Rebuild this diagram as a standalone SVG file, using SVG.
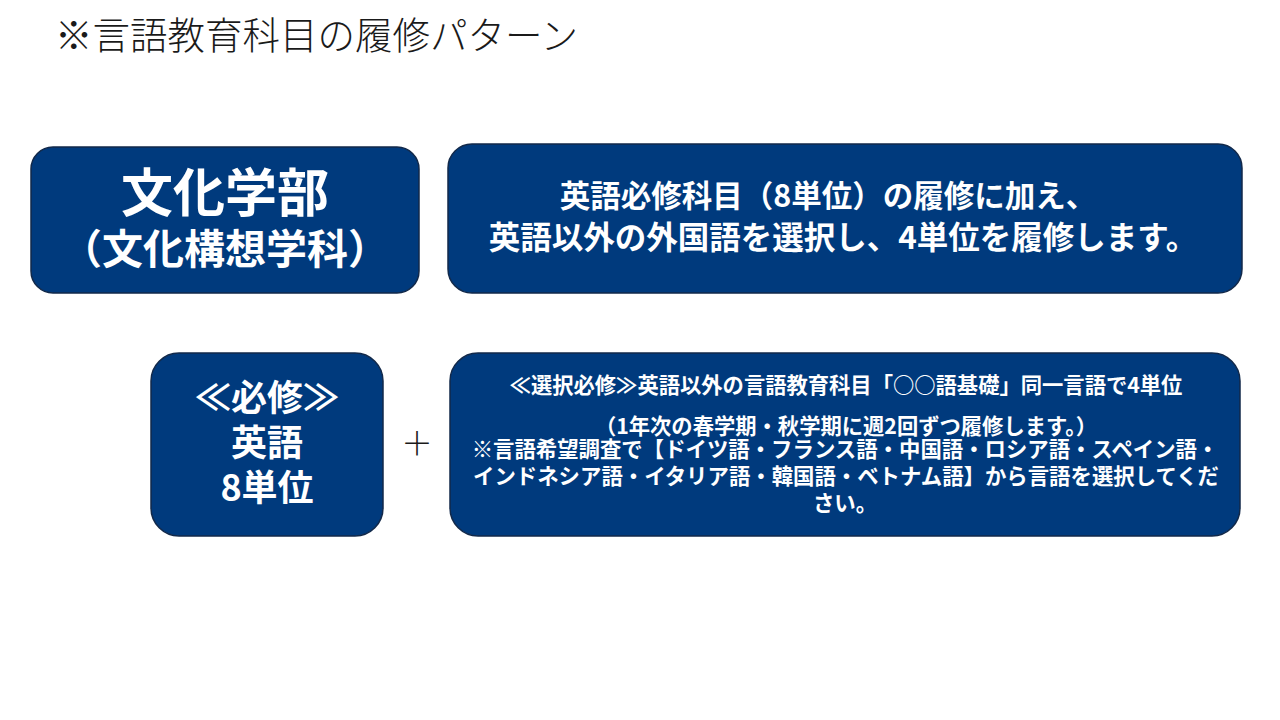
<svg xmlns="http://www.w3.org/2000/svg" width="1280" height="720" viewBox="0 0 1280 720">
<style>
.box{fill:#003A7D;stroke:#12294A;stroke-width:1.5}
.t{fill:#ffffff;font-family:"Noto Sans CJK JP","Noto Sans CJK SC",sans-serif;font-weight:bold;text-anchor:middle}
.title{fill:#1a1a1a;font-family:"Noto Sans CJK JP","Noto Sans CJK SC",sans-serif;font-weight:300;font-size:37.5px}
</style>
<rect width="1280" height="720" fill="#ffffff"/>
<text class="title" x="55" y="49">※言語教育科目の履修パターン</text>
<g id="faculty">
<rect class="box" x="31" y="147" width="388" height="146" rx="22"/>
<text class="t" x="225" y="212" font-size="52">文化学部</text>
<text class="t" x="225" y="264" font-size="41">（文化構想学科）</text>
</g>
<g id="summary">
<rect class="box" x="448" y="144" width="794" height="149" rx="24"/>
<text class="t" x="828" y="207" font-size="30.5">英語必修科目（8単位）の履修に加え、</text>
<text class="t" x="843" y="249" font-size="31.5">英語以外の外国語を選択し、4単位を履修します。</text>
</g>
<g id="required">
<rect class="box" x="151" y="353" width="232" height="183" rx="28"/>
<text class="t" x="267" y="411" font-size="36">≪必修≫</text>
<text class="t" x="267" y="456" font-size="36">英語</text>
<text class="t" x="267" y="501" font-size="36">8単位</text>
</g>
<g id="connectors">
<text x="417" y="455" font-family="Noto Sans CJK JP,sans-serif" font-size="32" font-weight="300" fill="#1a1a1a" text-anchor="middle">＋</text>
</g>
<g id="elective">
<rect class="box" x="450" y="353" width="790" height="183" rx="28"/>
<text class="t" x="846" y="393" font-size="21.3">≪選択必修≫英語以外の言語教育科目「○○語基礎」同一言語で4単位</text>
<text class="t" x="846" y="434" font-size="21.3">（1年次の春学期・秋学期に週2回ずつ履修します。）</text>
<text class="t" x="845" y="457" font-size="21.4">※言語希望調査で【ドイツ語・フランス語・中国語・ロシア語・スペイン語・</text>
<text class="t" x="846" y="484" font-size="21.4">インドネシア語・イタリア語・韓国語・ベトナム語】から言語を選択してくだ</text>
<text class="t" x="845" y="511" font-size="21.4">さい。</text>
</g>
</svg>
